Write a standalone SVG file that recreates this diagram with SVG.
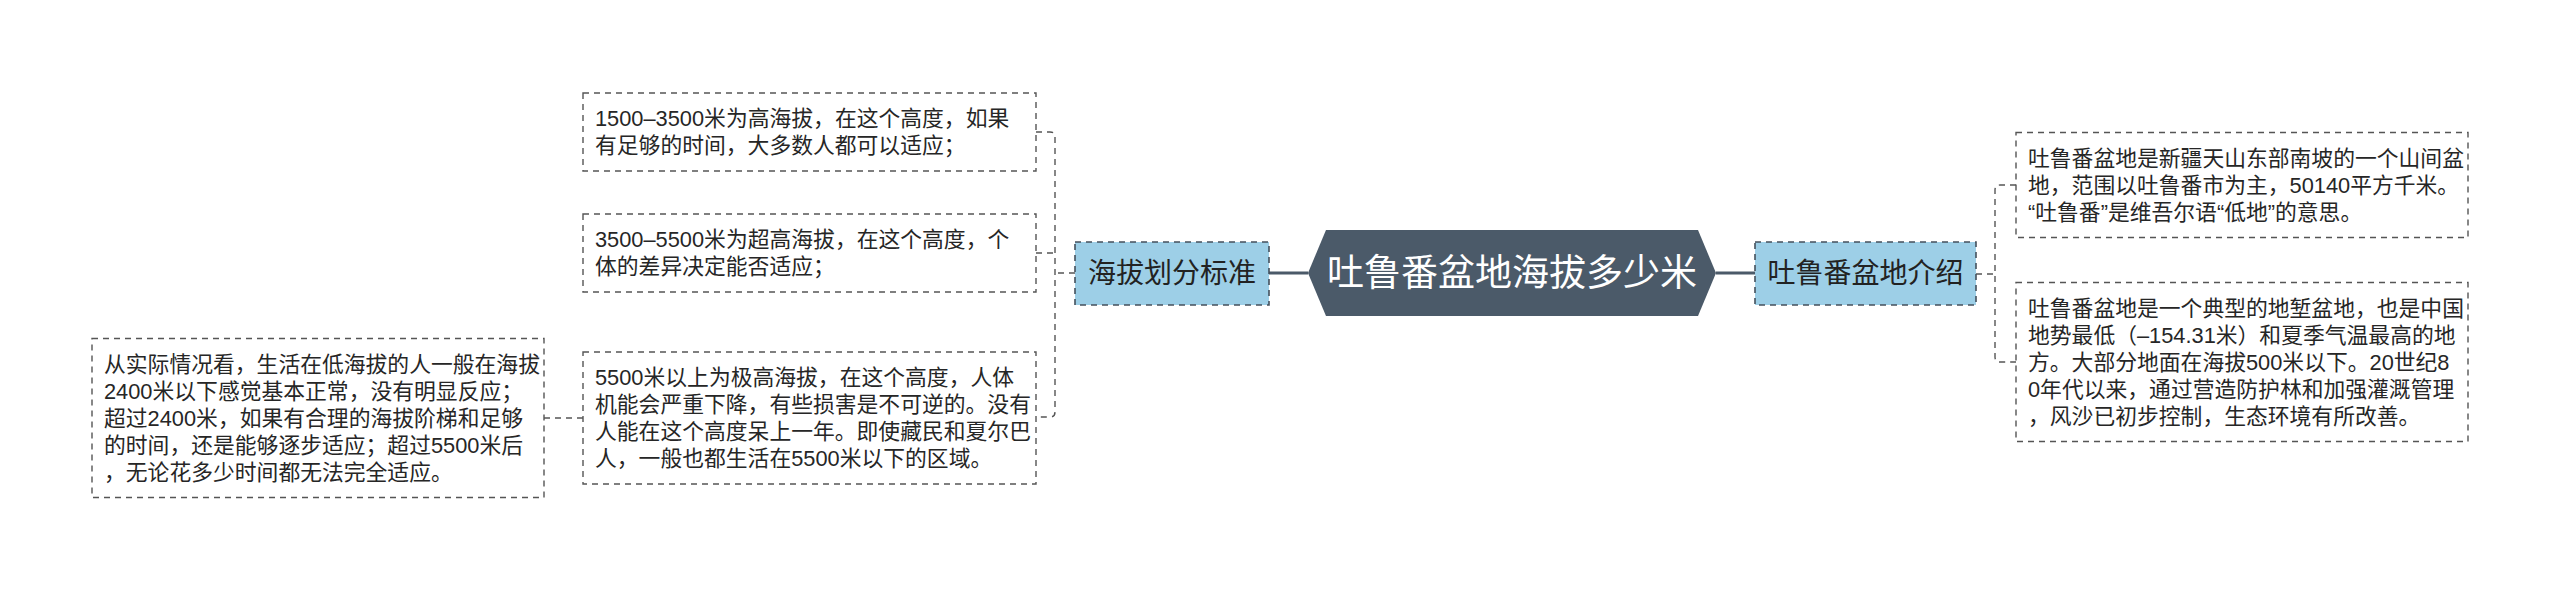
<svg xmlns="http://www.w3.org/2000/svg" width="2560" height="590" viewBox="0 0 2560 590">
<style>
.bg{fill:#ffffff}
.box{fill:#ffffff;stroke:#555555;stroke-width:1.4;stroke-dasharray:6 5}
.sub{fill:#9dcfe7;stroke:#44505c;stroke-width:1.6;stroke-dasharray:6 5}
.t{font-family:"Liberation Sans","Noto Sans CJK SC",sans-serif;font-size:21.8px;fill:#262626;dominant-baseline:central}
.st{font-family:"Liberation Sans","Noto Sans CJK SC",sans-serif;font-size:28px;fill:#222222;dominant-baseline:central;text-anchor:middle}
.ct{font-family:"Liberation Sans","Noto Sans CJK SC",sans-serif;font-size:37px;fill:#ffffff;dominant-baseline:central;text-anchor:middle}
.dl{fill:none;stroke:#555555;stroke-width:1.4;stroke-dasharray:6 5}
.sl{fill:none;stroke:#4b5a69;stroke-width:3}
</style>
<rect class="bg" x="0" y="0" width="2560" height="590"/>
<g id="connectors">
<line class="sl" x1="1269" y1="273" x2="1308" y2="273"/>
<line class="sl" x1="1716" y1="273" x2="1755" y2="273"/>
<path class="dl" d="M1075,273 H1055 M1036,132 H1050 Q1055,132 1055,137 V412 Q1055,417 1050,417 H1036 M1036,253 H1055"/>
<path class="dl" d="M1976,274 H1995 M2016,185 H2000 Q1995,185 1995,190 V357 Q1995,362 2000,362 H2016"/>
<path class="dl" d="M583,418 H544"/>
</g>
<g id="center">
<polygon points="1308,273 1326,230 1698,230 1716,273 1698,316 1326,316" fill="#4b5a69"/>
<text class="ct" x="1512" y="273">吐鲁番盆地海拔多少米</text>
</g>
<g id="n-standard">
<rect class="sub" x="1075" y="242" width="194" height="63"/>
<text class="st" x="1172" y="273">海拔划分标准</text>
</g>
<g id="n-intro">
<rect class="sub" x="1755" y="242" width="221" height="63"/>
<text class="st" x="1865.5" y="273">吐鲁番盆地介绍</text>
</g>
<g id="n-high">
<rect class="box" x="583" y="93" width="453" height="78"/>
<text class="t" x="595" y="118.5">1500–3500米为高海拔，在这个高度，如果</text>
<text class="t" x="595" y="145.5">有足够的时间，大多数人都可以适应；</text>
</g>
<g id="n-super">
<rect class="box" x="583" y="214" width="453" height="78"/>
<text class="t" x="595" y="239.5">3500–5500米为超高海拔，在这个高度，个</text>
<text class="t" x="595" y="266.5">体的差异决定能否适应；</text>
</g>
<g id="n-extreme">
<rect class="box" x="583" y="352" width="453" height="132"/>
<text class="t" x="595" y="377.5">5500米以上为极高海拔，在这个高度，人体</text>
<text class="t" x="595" y="404.5">机能会严重下降，有些损害是不可逆的。没有</text>
<text class="t" x="595" y="431.5">人能在这个高度呆上一年。即使藏民和夏尔巴</text>
<text class="t" x="595" y="458.5">人，一般也都生活在5500米以下的区域。</text>
</g>
<g id="n-practice">
<rect class="box" x="92" y="338.5" width="452" height="159"/>
<text class="t" x="104" y="364">从实际情况看，生活在低海拔的人一般在海拔</text>
<text class="t" x="104" y="391">2400米以下感觉基本正常，没有明显反应；</text>
<text class="t" x="104" y="418">超过2400米，如果有合理的海拔阶梯和足够</text>
<text class="t" x="104" y="445">的时间，还是能够逐步适应；超过5500米后</text>
<text class="t" x="104" y="472">，无论花多少时间都无法完全适应。</text>
</g>
<g id="n-intro1">
<rect class="box" x="2016" y="132.5" width="452" height="105"/>
<text class="t" x="2028" y="158">吐鲁番盆地是新疆天山东部南坡的一个山间盆</text>
<text class="t" x="2028" y="185">地，范围以吐鲁番市为主，50140平方千米。</text>
<text class="t" x="2028" y="212">“吐鲁番”是维吾尔语“低地”的意思。</text>
</g>
<g id="n-intro2">
<rect class="box" x="2016" y="282.5" width="452" height="159"/>
<text class="t" x="2028" y="308">吐鲁番盆地是一个典型的地堑盆地，也是中国</text>
<text class="t" x="2028" y="335">地势最低（–154.31米）和夏季气温最高的地</text>
<text class="t" x="2028" y="362">方。大部分地面在海拔500米以下。20世纪8</text>
<text class="t" x="2028" y="389">0年代以来，通过营造防护林和加强灌溉管理</text>
<text class="t" x="2028" y="416">，风沙已初步控制，生态环境有所改善。</text>
</g>
</svg>
